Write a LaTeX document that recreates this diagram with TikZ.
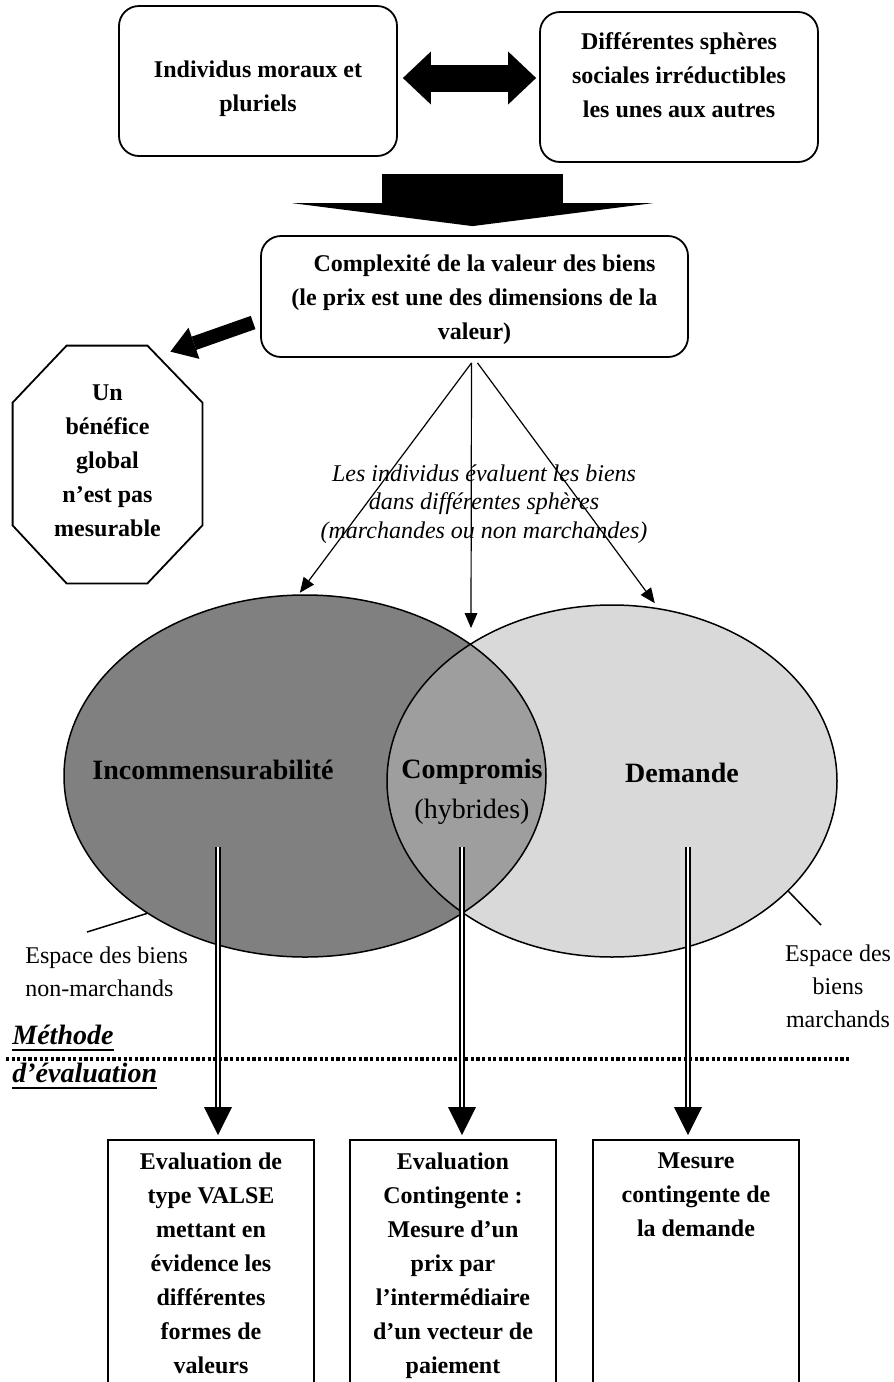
\documentclass[tikz,border=0pt]{standalone}
\usepackage{fontspec}
\setmainfont{Liberation Serif}
\usetikzlibrary{shapes.geometric}
\usetikzlibrary{positioning}
\usetikzlibrary{arrows.meta}
\usetikzlibrary{calc}
\definecolor{grayn}{gray}{0.5}
\definecolor{grayh}{gray}{0.62}
\definecolor{graym}{gray}{0.85}
\newcommand{\ulbar}[1]{\setbox0\hbox{#1}\rlap{\rule[-3.6pt]{\wd0}{1.2pt}}\box0}
\tikzset{
    myboxr/.style = {rectangle, rounded corners=10pt, draw=black, line width=0.9pt, inner sep=0pt},
    myboxe/.style = {rectangle, draw=black, line width=0.9pt, inner sep=0pt, anchor=north, minimum width=103pt, minimum height=127pt},
    mytext/.style = {align=center, inner sep=0pt, anchor=north, font=\fontsize{12}{17}\selectfont\bfseries},
    myital/.style = {align=center, inner sep=0pt, anchor=north, font=\fontsize{12}{14.25}\selectfont\itshape},
    myspace/.style = {inner sep=0pt, anchor=north, font=\fontsize{12}{16.5}\selectfont},
    myvenn/.style = {ellipse, draw=black, line width=0.75pt, inner sep=0pt},
    myvennt/.style = {align=center, inner sep=0pt, font=\fontsize{14}{20}\selectfont\bfseries},
    edgen/.style = {-{Triangle[length=7.5pt,width=6.5pt,line width=0pt]}, line width=0.6pt, black},
    edgep/.style = {-, line width=0.75pt, black}, % pointer
    edgebb/.style = {{Triangle[length=14pt,width=26.5pt,line width=0pt]}-{Triangle[length=14pt,width=26.5pt,line width=0pt]}, line width=13.5pt, black},
    edgebd/.style = {-{Triangle[length=11.5pt,width=180.5pt,line width=0pt]}, line width=90.5pt, black},
    edgebs/.style = {-{Triangle[length=12.5pt,width=16.5pt,line width=0pt]}, line width=7pt, black},
    edged/.style = {-{Triangle[length=14pt,width=14pt,line width=0pt]}, double=white, double distance=1.2pt, line width=0.8pt, black},
    edgedot/.style = {-, line width=2pt, dash pattern=on 1.6pt off 1.2pt, black}
}

\begin{document}
\begin{tikzpicture}[x=0.5pt, y=-0.5pt]
  \useasboundingbox (0,0) rectangle (894,1382);

  % top row
  \node[myboxr, minimum width=139pt, minimum height=75pt] (indiv) at (258,81) {};
  \node[myboxr, minimum width=139pt, minimum height=75pt] (spheres) at (679,87) {};
  \node[mytext] at (258,60) {Individus moraux et\\pluriels};
  \node[mytext] at (679,32) {Différentes sphères\\sociales irréductibles\\les unes aux autres};
  \coordinate (dbly) at (0,78);
  \draw[edgebb, shorten <=2.5pt, shorten >=1.5pt] (indiv.east |- dbly) -- (spheres.west |- dbly);

  % value box
  \node[myboxr, minimum width=213.5pt, minimum height=60.5pt] (cplx) at (474.5,296.5) {};
  \node[mytext] at (474.5,254) {\hspace*{10pt}Complexité de la valeur des biens\\(le prix est une des dimensions de la\\valeur)};
  \coordinate (bigtop) at (472.5,174);
  \draw[edgebd, shorten >=4.5pt] (bigtop) -- (bigtop |- cplx.north);

  % octagon
  \node[inner sep=0pt, minimum width=94.5pt, minimum height=118.5pt] (oct) at (107.5,464.5) {};
  \draw[line width=0.9pt] ($(oct.north west)+(54,0)$) -- ($(oct.north east)+(-55,0)$)
    -- ($(oct.north east)+(0,57)$) -- ($(oct.south east)+(0,-58)$)
    -- ($(oct.south east)+(-55,0)$) -- ($(oct.south west)+(54,0)$)
    -- ($(oct.south west)+(0,-58)$) -- ($(oct.north west)+(0,57)$) -- cycle;
  \node[mytext] at (107.5,384) {Un\\bénéfice\\global\\n’est pas\\mesurable};
  \draw[edgebs] ($(cplx.west)+(-7,26)$) -- ($(oct.north east)+(-32,6)$);

  % venn
  \fill[grayn] (305,776) ellipse [x radius=241, y radius=181];
  \fill[graym] (612,781) ellipse [x radius=225, y radius=176];
  \begin{scope}
    \clip (305,776) ellipse [x radius=241, y radius=181];
    \fill[grayh] (612,781) ellipse [x radius=225, y radius=176];
  \end{scope}
  \node[myvenn, minimum width=241pt, minimum height=181pt] (nonmarch) at (305,776) {};
  \node[myvenn, minimum width=225pt, minimum height=176pt] (march) at (612,781) {};
  \node[myvennt] (incomm) at (213,770) {Incommensurabilité};
  \node[myvennt] (compro) at (472,792) {Compromis\\{\mdseries (hybrides)}};
  \node[myvennt] (demand) at (682,773) {Demande};

  % spheres
  \node[myital] (sphtxt) at (484,464) {Les individus évaluent les biens\\dans différentes sphères\\(marchandes ou non marchandes)};
  \coordinate (fork) at ($(cplx.south)+(-3,5)$);
  \coordinate (lens) at (471,628);
  \draw[edgen, shorten >=1pt] (fork) -- (nonmarch.92);
  \draw[edgen] (fork) -- (lens);
  \draw[edgen, shorten >=3pt] ($(fork)+(6,0)$) -- (march.75);

  % spaces
  \coordinate (nmend) at (87,932);
  \coordinate (mend) at (821,925);
  \draw[edgep] (nonmarch.221) -- (nmend);
  \draw[edgep] (march.328) -- (mend);
  \node[myspace, anchor=north west, align=left] (nmtxt) at (25,946) {Espace des biens\\non-marchands};
  \node[myspace, align=center] (mtxt) at (838,944) {Espace des\\biens\\marchands};

  % methode
  \node[anchor=base west, inner sep=0pt, font=\fontsize{14}{16}\selectfont\bfseries\itshape] (meth) at (12,1044) {\ulbar{Méthode}};
  \node[anchor=base west, inner sep=0pt, font=\fontsize{14}{16}\selectfont\bfseries\itshape] (evalm) at (12,1082) {\ulbar{d’évaluation}};
  \draw[edgedot] (6,1059) -- (850,1059);

  % evaluation boxes
  \node[myboxe] (valse) at (211,1139) {};
  \node[myboxe] (contin) at (453,1139) {};
  \node[myboxe] (mesure) at (696,1139) {};
  \node[mytext] at ([yshift=-6.5pt]valse.north) {Evaluation de\\type VALSE\\mettant en\\évidence les\\différentes\\formes de\\valeurs};
  \node[mytext] at ([yshift=-6.5pt]contin.north) {Evaluation\\Contingente :\\Mesure d’un\\prix par\\l’intermédiaire\\d’un vecteur de\\paiement};
  \node[mytext] at ([yshift=-6.5pt]mesure.north) {Mesure\\contingente de\\la demande};
  \coordinate (dla) at (218,847);
  \coordinate (dlb) at (462,847);
  \coordinate (dlc) at (688,847);
  \draw[edged, shorten >=2pt] (dla) -- (dla |- valse.north);
  \draw[edged, shorten >=2pt] (dlb) -- (dlb |- contin.north);
  \draw[edged, shorten >=2pt] (dlc) -- (dlc |- mesure.north);
\end{tikzpicture}
\end{document}
